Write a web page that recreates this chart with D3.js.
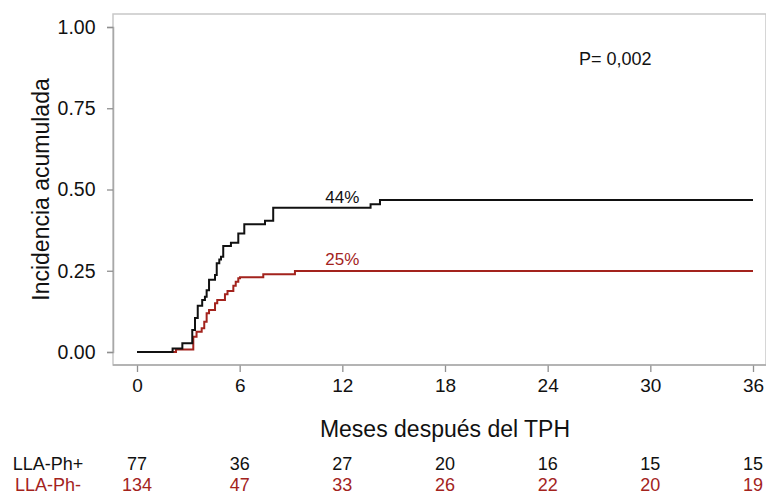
<!DOCTYPE html>
<html>
<head>
<meta charset="utf-8">
<script src="https://cdn.jsdelivr.net/npm/d3@7"></script>
<style>
  html, body { margin: 0; padding: 0; background: #fff; }
  svg { display: block; font-family: "Liberation Sans", Arial, sans-serif; }
</style>
</head>
<body>
<svg id="chart" width="766" height="495"></svg>
<script>
// Cumulative incidence step curves (months after transplant)
const phPosTimes  = [0, 2.08, 2.65, 3.23, 3.39, 3.55, 3.81, 3.97, 4.07, 4.21, 4.56, 4.66, 4.81, 4.91, 5.04, 5.49, 5.92, 6.27, 7.48, 7.96, 13.65, 14.2, 36];
const phPosValues = [0, 0.011, 0.027, 0.068, 0.105, 0.142, 0.16, 0.17, 0.19, 0.222, 0.237, 0.273, 0.285, 0.293, 0.326, 0.336, 0.365, 0.393, 0.404, 0.444, 0.455, 0.468, 0.468];

const phNegTimes  = [0, 2.28, 3.29, 3.48, 3.78, 3.93, 4.07, 4.21, 4.56, 4.69, 5.14, 5.29, 5.63, 5.77, 5.92, 6.02, 7.38, 9.23, 36];
const phNegValues = [0, 0.008, 0.047, 0.062, 0.073, 0.093, 0.119, 0.129, 0.15, 0.16, 0.178, 0.188, 0.204, 0.216, 0.227, 0.23, 0.239, 0.249, 0.249];

// Axis ticks
const xTicks = [0, 6, 12, 18, 24, 30, 36];
const yTicks = [0, 0.25, 0.5, 0.75, 1];

// Numbers at risk under each x tick
const groupNames = ["LLA-Ph+", "LLA-Ph-"];
const atRiskPos = [77, 36, 27, 20, 16, 15, 15];
const atRiskNeg = [134, 47, 33, 26, 22, 20, 19];

// Annotations
const labelTime = 12;
const pText = "P= 0,002";

const BLACK = "#111111";
const RED = "#a3231d";

const svg = d3.select("#chart");

const x = d3.scaleLinear().domain([0, 36]).range([137, 753]);
const y = d3.scaleLinear().domain([0, 1]).range([352, 27]);

// Plot frame
svg.append("rect")
  .attr("x", 113).attr("y", 14)
  .attr("width", 653).attr("height", 351)
  .attr("fill", "none")
  .attr("stroke", "#c8c8c8")
  .attr("stroke-width", 1.5);

// Y axis
const yAxis = d3.axisLeft(y).tickValues(yTicks).tickFormat(d3.format(".2f")).tickSize(6).tickPadding(11.5);
const gy = svg.append("g").attr("transform", "translate(113,0)").call(yAxis);
gy.select(".domain").attr("stroke", "#a8a8a8").attr("stroke-width", 1.5);
gy.selectAll(".tick line").attr("stroke", "#8f8f8f").attr("stroke-width", 1.3);
gy.selectAll(".tick text").attr("font-size", 19.5).attr("fill", "#111").attr("font-family", "Liberation Sans, Arial, sans-serif");

// X axis
const xAxis = d3.axisBottom(x).tickValues(xTicks).tickSize(7).tickPadding(7);
const gx = svg.append("g").attr("transform", "translate(0,365)").call(xAxis);
gx.select(".domain").remove();
gx.append("line").attr("x1", 113).attr("x2", 766).attr("stroke", "#a8a8a8").attr("stroke-width", 1.5);
gx.selectAll(".tick line").attr("stroke", "#8f8f8f").attr("stroke-width", 1.3);
gx.selectAll(".tick text").attr("font-size", 19).attr("fill", "#111").attr("font-family", "Liberation Sans, Arial, sans-serif");

// Axis titles
svg.append("text")
  .attr("transform", `translate(49,${(y(0) + y(1)) / 2}) rotate(-90)`)
  .attr("text-anchor", "middle")
  .attr("font-size", 23)
  .attr("fill", "#111")
  .text("Incidencia acumulada");

svg.append("text")
  .attr("x", (x(0) + x(36)) / 2)
  .attr("y", 437)
  .attr("text-anchor", "middle")
  .attr("font-size", 23)
  .attr("fill", "#111")
  .text("Meses después del TPH");

// Step curves
const line = d3.line().x(d => x(d[0])).y(d => y(d[1])).curve(d3.curveStepAfter);
const series = [
  { times: phNegTimes, values: phNegValues, color: RED },
  { times: phPosTimes, values: phPosValues, color: BLACK }
];
series.forEach(s => {
  svg.append("path")
    .datum(s.times.map((t, i) => [t, s.values[i]]))
    .attr("d", line)
    .attr("fill", "none")
    .attr("stroke", s.color)
    .attr("stroke-width", 2);
});

// Value at a time on a step curve
function stepValue(times, values, t) {
  let v = values[0];
  for (let i = 0; i < times.length; i++) if (times[i] <= t) v = values[i];
  return v;
}

const posAt = stepValue(phPosTimes, phPosValues, labelTime);
const negAt = stepValue(phNegTimes, phNegValues, labelTime);
svg.append("text")
  .attr("x", x(labelTime)).attr("y", y(posAt) - 5)
  .attr("text-anchor", "middle").attr("font-size", 17).attr("fill", BLACK)
  .text(Math.round(posAt * 100) + "%");
svg.append("text")
  .attr("x", x(labelTime)).attr("y", y(negAt) - 6)
  .attr("text-anchor", "middle").attr("font-size", 17).attr("fill", RED)
  .text(Math.round(negAt * 100) + "%");

svg.append("text")
  .attr("x", 579).attr("y", 65)
  .attr("font-size", 18).attr("fill", "#111")
  .text(pText);

// Numbers at risk table
const rows = [
  { name: groupNames[0], counts: atRiskPos, color: BLACK, yPos: 470 },
  { name: groupNames[1], counts: atRiskNeg, color: RED, yPos: 491 }
];
rows.forEach(r => {
  svg.append("text")
    .attr("x", 48).attr("y", r.yPos)
    .attr("text-anchor", "middle").attr("font-size", 18).attr("fill", r.color)
    .text(r.name);
  svg.selectAll(null)
    .data(r.counts)
    .enter().append("text")
    .attr("x", (d, i) => x(xTicks[i]))
    .attr("y", r.yPos)
    .attr("text-anchor", "middle").attr("font-size", 18).attr("fill", r.color)
    .text(d => d);
});
</script>
</body>
</html>
